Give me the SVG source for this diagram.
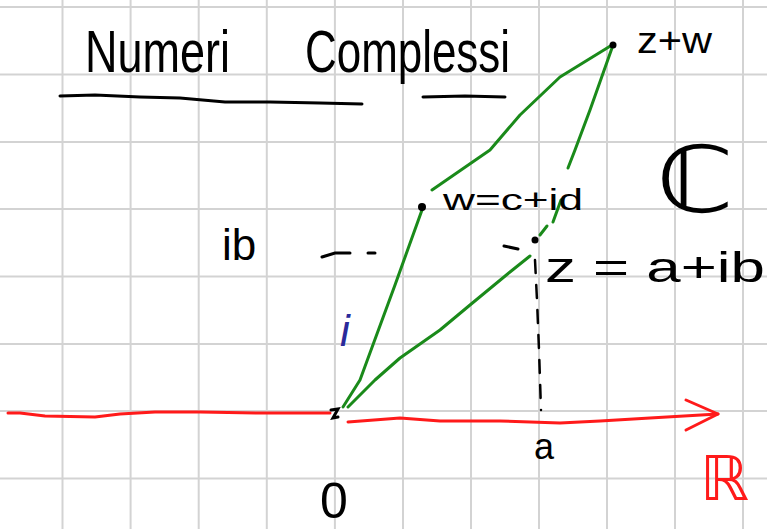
<svg xmlns="http://www.w3.org/2000/svg" width="767" height="529" viewBox="0 0 767 529">
<style>
.grid line{stroke:#d3d3d3;stroke-width:2}
.ink{fill:#000;font-family:"Liberation Sans","DejaVu Sans",sans-serif}
.green{fill:none;stroke:#1a8a1a;stroke-width:3;stroke-linecap:round;stroke-linejoin:round}
.red{fill:none;stroke:#ff1a1a;stroke-width:3;stroke-linecap:round;stroke-linejoin:round}
.blk{fill:none;stroke:#000;stroke-width:3;stroke-linecap:round}
.dash{fill:none;stroke:#000;stroke-width:2.5;stroke-dasharray:13 12;stroke-linecap:round}
</style>
<rect width="767" height="529" fill="#fff"/>
<g class="grid">
<line x1="62.5" y1="0" x2="62.5" y2="529"/><line x1="130.6" y1="0" x2="130.6" y2="529"/><line x1="198.7" y1="0" x2="198.7" y2="529"/><line x1="266.8" y1="0" x2="266.8" y2="529"/><line x1="334.9" y1="0" x2="334.9" y2="529"/><line x1="403" y1="0" x2="403" y2="529"/><line x1="471" y1="0" x2="471" y2="529"/><line x1="539" y1="0" x2="539" y2="529"/><line x1="607" y1="0" x2="607" y2="529"/><line x1="675" y1="0" x2="675" y2="529"/><line x1="743" y1="0" x2="743" y2="529"/>
<line x1="0" y1="7" x2="767" y2="7"/><line x1="0" y1="74.5" x2="767" y2="74.5"/><line x1="0" y1="142" x2="767" y2="142"/><line x1="0" y1="209" x2="767" y2="209"/><line x1="0" y1="276.5" x2="767" y2="276.5"/><line x1="0" y1="344" x2="767" y2="344"/><line x1="0" y1="411" x2="767" y2="411"/><line x1="0" y1="478.5" x2="767" y2="478.5"/>
</g>
<g id="title">
<text class="ink" x="85" y="72" font-size="60" textLength="145" lengthAdjust="spacingAndGlyphs">Numeri</text>
<text class="ink" x="305" y="72" font-size="60" textLength="205" lengthAdjust="spacingAndGlyphs">Complessi</text>
<path class="blk" d="M60,96 L95,95 L140,97 L180,98 L225,102 L270,102 L320,103 L362,104"/>
<path class="blk" d="M423,97 L465,96 L505,97"/>
</g>
<g id="connectors">
<path class="green" d="M612,45 L560,77 L520,115 L490,150 L432,190"/>
<path class="green" d="M422,210 L395,285 L360,380 L343,407"/>
<path class="green" d="M612,48 L590,110 L575,150 L568,168"/>
<path class="green" d="M561,200 L553,222"/>
<path class="green" d="M547,226 L540,235"/>
<path class="green" d="M530,256 L510,272 L470,305 L440,330 L400,358 L375,380 L348,407"/>
<path class="dash" d="M535,260 L537,300 L539,350 L541,410"/>
<path class="red" d="M8,413 L20,413 L45,416 L95,417 L120,414 L155,412 L200,412 L260,413 L330,413"/>
<path class="red" d="M348,422 L400,418 L440,421 L500,421 L560,423 L600,421 L650,418 L718,414"/>
<path class="red" d="M686,400 L718,414 L686,430"/>
</g>
<g id="point-O">
<path class="blk" d="M331,410 L338,409 L333,418 L338,417"/>
<text class="ink" x="320" y="518" font-size="50">0</text>
</g>
<g id="point-w">
<circle cx="422" cy="207" r="4" fill="#000"/>
<text class="ink" x="443" y="210" font-size="30" textLength="140" lengthAdjust="spacingAndGlyphs">w=c+id</text>
</g>
<g id="point-z">
<circle cx="535" cy="240" r="3.5" fill="#000"/>
<text class="ink" x="545" y="282" font-size="42" textLength="220" lengthAdjust="spacingAndGlyphs">z = a+ib</text>
</g>
<g id="point-zw">
<circle cx="613" cy="45" r="3.5" fill="#000"/>
<text class="ink" x="637" y="53" font-size="36" textLength="75" lengthAdjust="spacingAndGlyphs">z+w</text>
</g>
<g id="label-ib">
<text class="ink" x="222" y="260" font-size="44">ib</text>
<path class="blk" d="M322,257 L335,253 L350,253"/>
<path class="blk" d="M368,253 L375,253"/>
<path class="blk" d="M504,246 L518,249"/>
</g>
<g id="label-i">
<text x="340" y="346" font-size="44" fill="#2a2a9a" font-family="Liberation Sans, sans-serif" font-style="italic">i</text>
</g>
<g id="label-a">
<text class="ink" x="534" y="459" font-size="36">a</text>
</g>
<g id="label-C">
<text class="ink" x="656" y="212" font-size="92" textLength="78" lengthAdjust="spacingAndGlyphs">ℂ</text>
</g>
<g id="label-R">
<text x="700" y="500" font-size="62" fill="#ff1a1a" font-family="DejaVu Sans, sans-serif">ℝ</text>
</g>
</svg>
